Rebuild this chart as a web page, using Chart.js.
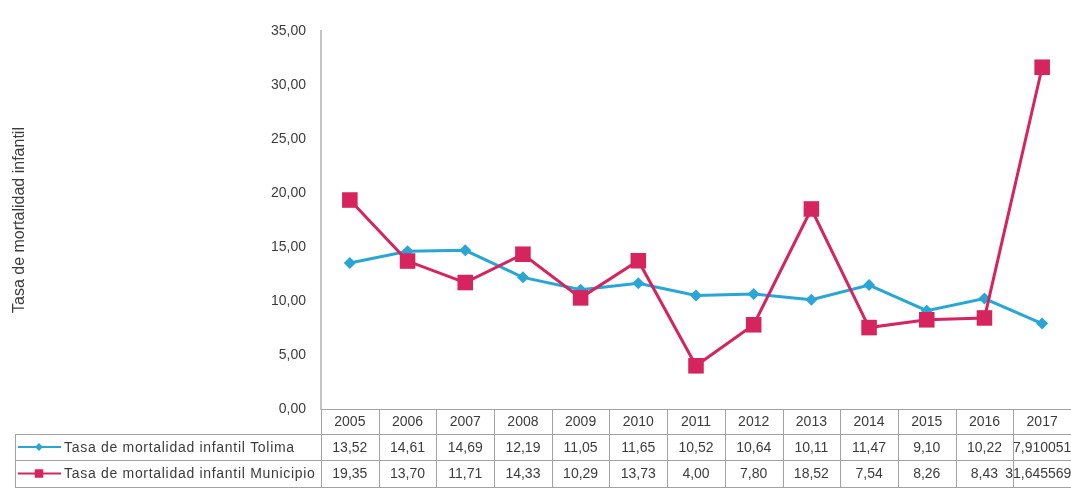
<!DOCTYPE html>
<html>
<head>
<meta charset="utf-8">
<script src="https://cdn.jsdelivr.net/npm/chart.js@4.4.1/dist/chart.umd.min.js"></script>
<style>
  html, body { margin: 0; padding: 0; background: #fff; }
  #wrap { width: 1071px; height: 490px; }
</style>
</head>
<body>
<div id="wrap"><canvas id="grafico" width="1071" height="490"></canvas></div>
<script>
// datos de la tabla
const anios = ['2005', '2006', '2007', '2008', '2009', '2010', '2011', '2012', '2013', '2014', '2015', '2016', '2017'];
const tolima = [13.52, 14.61, 14.69, 12.19, 11.05, 11.65, 10.52, 10.64, 10.11, 11.47, 9.10, 10.22, 7.910051];
const municipio = [19.35, 13.70, 11.71, 14.33, 10.29, 13.73, 4.00, 7.80, 18.52, 7.54, 8.26, 8.43, 31.6455696];
const ticksY = [0, 5, 10, 15, 20, 25, 30, 35];

const nombreTolima = 'Tasa de mortalidad infantil Tolima';
const nombreMunicipio = 'Tasa de mortalidad infantil Municipio';
const colorTolima = '#2aa6d6';
const colorMunicipio = '#d5245e';
const fuente = '"Liberation Sans", Arial, sans-serif';
const gris = '#3c3c3c';

// formato con coma decimal; los valores largos se muestran completos
function fmt(v) {
  const c = v * 100;
  const s = Math.abs(c - Math.round(c)) < 1e-9 ? v.toFixed(2) : String(v);
  return s.replace('.', ',');
}

// tabla de datos debajo del eje x
const tablaDatos = {
  id: 'tablaDatos',
  afterDraw(chart) {
    const { ctx, chartArea } = chart;
    const x = chart.scales.x;
    const n = anios.length;
    const colW = (chartArea.right - chartArea.left) / n;
    const y0 = chartArea.bottom;
    const filas = [y0, y0 + 25, y0 + 51, y0 + 78];
    const izq = 15;

    ctx.save();
    ctx.strokeStyle = '#a3a3a3';
    ctx.lineWidth = 1;
    const linea = (x1, y1, x2, y2) => {
      ctx.beginPath();
      ctx.moveTo(x1, y1);
      ctx.lineTo(x2, y2);
      ctx.stroke();
    };
    linea(chartArea.left, filas[0] + 0.5, chartArea.right, filas[0] + 0.5);
    for (let k = 1; k < filas.length; k++) {
      linea(izq, Math.round(filas[k]) + 0.5, chartArea.right, Math.round(filas[k]) + 0.5);
    }
    for (let i = 0; i <= n; i++) {
      const xl = Math.round(chartArea.left + i * colW) + 0.5;
      linea(xl, filas[0], xl, filas[3]);
    }
    linea(izq + 0.5, filas[1], izq + 0.5, filas[3]);

    ctx.fillStyle = gris;
    ctx.font = '14px ' + fuente;
    ctx.textAlign = 'center';
    ctx.textBaseline = 'middle';
    anios.forEach((a, i) => {
      const cx = x.getPixelForValue(i);
      ctx.fillText(a, cx, (filas[0] + filas[1]) / 2 + 1);
      ctx.fillText(fmt(tolima[i]), cx, (filas[1] + filas[2]) / 2 + 1);
      ctx.fillText(fmt(municipio[i]), cx, (filas[2] + filas[3]) / 2 + 1);
    });

    // claves de la leyenda
    const series = [
      { nombre: nombreTolima, color: colorTolima, forma: 'rectRot', r: 4, y: (filas[1] + filas[2]) / 2 },
      { nombre: nombreMunicipio, color: colorMunicipio, forma: 'rect', r: 6, y: (filas[2] + filas[3]) / 2 }
    ];
    series.forEach(s => {
      ctx.strokeStyle = s.color;
      ctx.lineWidth = 2;
      linea(18, s.y, 61, s.y);
      ctx.fillStyle = s.color;
      Chart.helpers.drawPoint(ctx, { pointStyle: s.forma, radius: s.r, borderWidth: 0 }, 39, s.y);
      ctx.fillStyle = gris;
      ctx.textAlign = 'left';
      ctx.letterSpacing = '0.7px';
      ctx.fillText(s.nombre, 64, s.y + 1);
      ctx.letterSpacing = '0px';
    });
    ctx.restore();
  }
};

new Chart(document.getElementById('grafico'), {
  type: 'line',
  data: {
    labels: anios,
    datasets: [
      {
        label: nombreTolima,
        data: tolima,
        borderColor: colorTolima,
        backgroundColor: colorTolima,
        borderWidth: 3,
        pointStyle: 'rectRot',
        pointRadius: 6,
        pointBorderWidth: 0,
        order: 2
      },
      {
        label: nombreMunicipio,
        data: municipio,
        borderColor: colorMunicipio,
        backgroundColor: colorMunicipio,
        borderWidth: 3,
        pointStyle: 'rect',
        pointRadius: 11,
        pointBorderWidth: 0,
        order: 1
      }
    ]
  },
  options: {
    responsive: false,
    animation: false,
    devicePixelRatio: 1,
    layout: { autoPadding: false, padding: { top: 31, bottom: 81, left: 0, right: 0 } },
    plugins: {
      legend: { display: false },
      tooltip: { enabled: false }
    },
    scales: {
      x: {
        display: false,
        offset: true
      },
      y: {
        min: 0,
        max: 35,
        afterBuildTicks: s => { s.ticks = ticksY.map(v => ({ value: v })); },
        afterFit: s => { s.width = 321; },
        grid: { display: false, drawTicks: false },
        border: { display: true, color: '#c4c4c4', width: 2 },
        ticks: {
          padding: 15,
          color: gris,
          font: { size: 14, family: fuente },
          callback: v => fmt(Number(v)).replace(/^(\d+)$/, '$1,00')
        },
        title: {
          display: true,
          text: 'Tasa de mortalidad infantil',
          color: gris,
          font: { size: 16, family: fuente },
          padding: { top: 10, bottom: 0 }
        }
      }
    }
  },
  plugins: [tablaDatos]
});
</script>
</body>
</html>
